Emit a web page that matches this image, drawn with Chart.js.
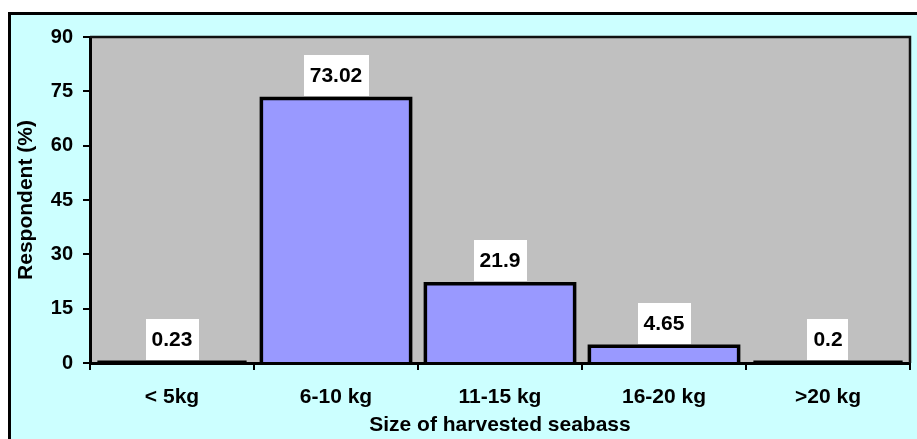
<!DOCTYPE html>
<html>
<head>
<meta charset="utf-8">
<script src="https://cdn.jsdelivr.net/npm/chart.js@4.4.1/dist/chart.umd.min.js"></script>
<style>
  html, body { margin: 0; padding: 0; background: #ffffff; }
  canvas { display: block; }
</style>
</head>
<body>
<canvas id="c" width="917" height="439"></canvas>
<script>
// Harvested seabass size classes and share of respondents (%)
const sizeClasses = ['< 5kg', '6-10 kg', '11-15 kg', '16-20 kg', '>20 kg'];
const respondentPct = [0.23, 73.02, 21.9, 4.65, 0.2];
const yTicks = [0, 15, 30, 45, 60, 75, 90];

const FONT = "'Liberation Sans', Arial, sans-serif";

// Frame, light cyan chart background and grey plot area
const backdrop = {
  id: 'backdrop',
  beforeDraw(chart) {
    const { ctx, chartArea: a } = chart;
    ctx.save();
    ctx.fillStyle = '#ffffff';
    ctx.fillRect(0, 0, chart.width, chart.height);
    ctx.fillStyle = '#CCFFFF';
    ctx.fillRect(9.5, 13.5, chart.width, chart.height);
    ctx.strokeStyle = '#000000';
    ctx.lineWidth = 3;
    ctx.beginPath();
    ctx.moveTo(chart.width + 5, 13.5);
    ctx.lineTo(9.5, 13.5);
    ctx.lineTo(9.5, chart.height + 5);
    ctx.stroke();
    ctx.fillStyle = '#C0C0C0';
    ctx.fillRect(a.left, a.top, a.right - a.left, a.bottom - a.top);
    ctx.restore();
  },
  afterDraw(chart) {
    const { ctx, chartArea: a } = chart;
    ctx.save();
    ctx.strokeStyle = '#111111';
    ctx.lineWidth = 2.5;
    ctx.beginPath();
    ctx.moveTo(a.left, a.top);
    ctx.lineTo(a.right, a.top);
    ctx.lineTo(a.right, a.bottom);
    ctx.stroke();
    ctx.restore();
  }
};

// Bar outlines and boxed value labels
const barDecor = {
  id: 'barDecor',
  afterDatasetsDraw(chart) {
    const { ctx } = chart;
    const meta = chart.getDatasetMeta(0);
    const values = chart.data.datasets[0].data;
    ctx.save();
    meta.data.forEach((bar) => {
      const { x, y, base, width } = bar.getProps(['x', 'y', 'base', 'width'], true);
      const l = x - width / 2, r = x + width / 2;
      ctx.strokeStyle = '#000000';
      ctx.lineWidth = 3.5;
      ctx.lineJoin = 'miter';
      ctx.beginPath();
      ctx.moveTo(l, base);
      ctx.lineTo(l, y);
      ctx.lineTo(r, y);
      ctx.lineTo(r, base);
      ctx.stroke();
    });
    ctx.font = 'bold 21px ' + FONT;
    ctx.textAlign = 'center';
    ctx.textBaseline = 'middle';
    meta.data.forEach((bar, i) => {
      const { x, y } = bar.getProps(['x', 'y'], true);
      const txt = String(values[i]);
      const w = ctx.measureText(txt).width + 12;
      const h = 41;
      const bottom = y - 2.5;
      ctx.fillStyle = '#ffffff';
      ctx.fillRect(Math.round(x - w / 2), Math.round(bottom - h), Math.round(w), h);
      ctx.fillStyle = '#000000';
      ctx.fillText(txt, x, bottom - h / 2 + 1);
    });
    ctx.restore();
  }
};

new Chart(document.getElementById('c'), {
  type: 'bar',
  data: {
    labels: sizeClasses,
    datasets: [{
      data: respondentPct,
      backgroundColor: '#9999FF',
      borderWidth: 0,
      categoryPercentage: 1.0,
      barPercentage: 0.91
    }]
  },
  plugins: [backdrop, barDecor],
  options: {
    responsive: false,
    animation: false,
    devicePixelRatio: 1,
    layout: { padding: { top: 37, right: 7, left: 0, bottom: 0 } },
    plugins: { legend: { display: false }, tooltip: { enabled: false } },
    scales: {
      x: {
        offset: true,
        grid: { offset: true, drawOnChartArea: false, drawTicks: true, tickLength: 7, color: '#000000', lineWidth: 2 },
        border: { display: true, color: '#000000', width: 3 },
        ticks: { color: '#000000', font: { family: FONT, size: 21, weight: 'bold' }, padding: 15, maxRotation: 0 },
        title: { display: true, text: 'Size of harvested seabass', color: '#000000', font: { family: FONT, size: 21, weight: 'bold' }, padding: { top: 0, bottom: 1 } },
        afterFit(s) { s.height = 76; }
      },
      y: {
        min: 0,
        max: 90,
        afterBuildTicks(s) { s.ticks = yTicks.map(v => ({ value: v })); },
        grid: { drawOnChartArea: false, drawTicks: true, tickLength: 7, color: '#000000', lineWidth: 2 },
        border: { display: true, color: '#000000', width: 3 },
        ticks: { color: '#000000', font: { family: FONT, size: 20, weight: 'bold' }, padding: 10 },
        title: { display: true, text: 'Respondent (%)', color: '#000000', font: { family: FONT, size: 21, weight: 'bold' }, padding: { top: 14, bottom: 0 } },
        afterFit(s) { s.width = 90; }
      }
    }
  }
});
</script>
</body>
</html>
